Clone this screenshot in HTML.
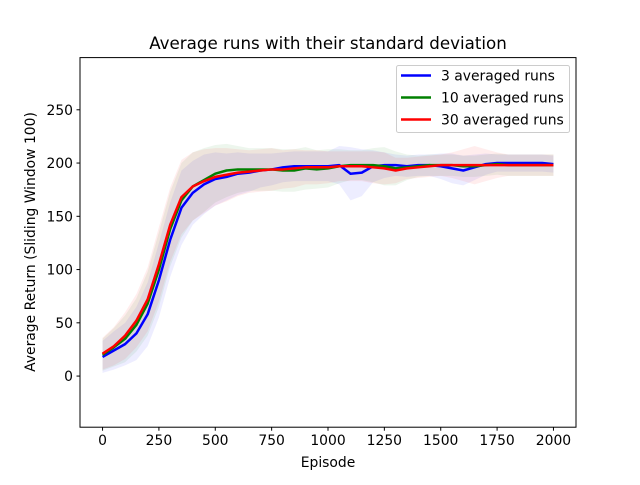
<!DOCTYPE html>
<html><head><meta charset="utf-8"><style>
body{margin:0;background:#fff;}
svg text{font-family:"DejaVu Sans","Liberation Sans",sans-serif;fill:#000;}
</style></head><body>
<svg id="chart" width="640" height="480">
<rect width="640" height="480" fill="#fff"/>
<g id="bands"></g>
<g id="lines"></g>
<rect x="80" y="57.6" width="496" height="369.6" fill="none" stroke="#000" stroke-width="1"/>
<g id="xticks"></g>
<g id="yticks"></g>
<text x="328" y="49" font-size="16.7" text-anchor="middle">Average runs with their standard deviation</text>
<text x="328" y="467" font-size="13.9" text-anchor="middle">Episode</text>
<text transform="translate(35,242) rotate(-90)" font-size="13.9" text-anchor="middle">Average Return (Sliding Window 100)</text>
<g>
<rect x="396.5" y="65.5" width="173" height="67" rx="2" fill="#fff" fill-opacity="0.8" stroke="#ccc"/>
<line x1="401" y1="75.5" x2="431" y2="75.5" stroke="#0000ff" stroke-width="2.5"/>
<text x="441" y="80.5" font-size="13.9">3 averaged runs</text>
<line x1="401" y1="97.5" x2="431" y2="97.5" stroke="#008000" stroke-width="2.5"/>
<text x="441" y="102.5" font-size="13.9">10 averaged runs</text>
<line x1="401" y1="119.5" x2="431" y2="119.5" stroke="#ff0000" stroke-width="2.5"/>
<text x="441" y="124.5" font-size="13.9">30 averaged runs</text>
</g>
</svg>
<script>
const episodes=[0,50,100,150,200,250,300,350,400,450,500,550,600,650,700,750,800,850,900,950,1000,1050,1100,1150,1200,1250,1300,1350,1400,1450,1500,1550,1600,1650,1700,1750,1800,1850,1900,1950,2000];
const blueVals=[18,24,30,40,58,90,128,158,172,180,185,187,190,191,193,194,196,197,197,197,197,198,190,191,197,198,198,197,198,198,197,195,193,196,199,200,200,200,200,200,199];
const greenVals=[20,27,35,48,68,100,138,165,178,184,190,193,194,194,194,194,193,193,195,194,195,197,198,198,198,197,195,196,197,198,198,198,197,197,198,199,198,198,198,198,198];
const redVals=[21,28,38,52,72,105,142,168,178,183,187,189,191,192,193,194,194,195,196,196,196,197,197,197,196,195,193,195,196,197,198,198,198,198,198,198,198,198,198,198,198];
const blueStd=[15,18,20,25,30,35,35,35,30,28,25,22,20,18,16,15,14,14,14,14,14,18,25,22,15,12,10,10,10,10,12,14,14,12,10,8,8,8,8,8,8];
const greenStd=[15,18,22,25,30,35,35,35,32,30,27,25,22,20,20,20,20,20,20,18,18,16,14,14,16,18,16,12,10,10,10,10,10,10,10,10,10,10,10,10,10];
const redStd=[15,18,22,25,30,35,35,35,32,30,27,25,22,20,20,20,18,18,16,16,15,14,14,14,15,15,12,10,10,10,10,12,15,18,15,12,10,10,10,10,10];
const xTicks=[0,250,500,750,1000,1250,1500,1750,2000];
const yTicks=[0,50,100,150,200,250];
const xMin=-100,xMax=2100,yMin=-48,yMax=299;
const L=80,R=576,T=57.6,B=427.2;
const sx=v=>L+(v-xMin)/(xMax-xMin)*(R-L);
const sy=v=>B-(v-yMin)/(yMax-yMin)*(B-T);
const NS="http://www.w3.org/2000/svg";
const bands=document.getElementById('bands'),lines=document.getElementById('lines');
const series=[["blue","#0000ff",blueVals,blueStd],["green","#008000",greenVals,greenStd],["red","#ff0000",redVals,redStd]];
series.forEach(([n,c,v,s])=>{
  let up=episodes.map((e,i)=>sx(e)+","+sy(v[i]+s[i]));
  let lo=episodes.map((e,i)=>sx(e)+","+sy(v[i]-s[i])).reverse();
  const p=document.createElementNS(NS,'polygon');
  p.setAttribute('points',up.concat(lo).join(' '));
  p.setAttribute('fill',c);p.setAttribute('fill-opacity','0.07');
  
  
  bands.appendChild(p);
});
series.forEach(([n,c,v])=>{
  const p=document.createElementNS(NS,'polyline');
  p.setAttribute('points',episodes.map((e,i)=>sx(e)+","+sy(v[i])).join(' '));
  p.setAttribute('fill','none');p.setAttribute('stroke',c);p.setAttribute('stroke-width','2.5');p.setAttribute('stroke-linejoin','round');
  
  
  lines.appendChild(p);
});
const xg=document.getElementById('xticks');
xTicks.forEach(t=>{
  const x=sx(t);
  const l=document.createElementNS(NS,'line');
  l.setAttribute('x1',x);l.setAttribute('x2',x);l.setAttribute('y1',B);l.setAttribute('y2',B+3.5);l.setAttribute('stroke','#000');
  
  
  xg.appendChild(l);
  const tx=document.createElementNS(NS,'text');
  tx.setAttribute('x',x);tx.setAttribute('y',B+18);tx.setAttribute('font-size','13.9');tx.setAttribute('text-anchor','middle');
  tx.textContent=t;
  
  
  xg.appendChild(tx);
});
const yg=document.getElementById('yticks');
yTicks.forEach(t=>{
  const y=sy(t);
  const l=document.createElementNS(NS,'line');
  l.setAttribute('x1',L-3.5);l.setAttribute('x2',L);l.setAttribute('y1',y);l.setAttribute('y2',y);l.setAttribute('stroke','#000');
  
  
  yg.appendChild(l);
  const tx=document.createElementNS(NS,'text');
  tx.setAttribute('x',L-7);tx.setAttribute('y',y+5);tx.setAttribute('font-size','13.9');tx.setAttribute('text-anchor','end');
  tx.textContent=t;
  
  
  yg.appendChild(tx);
});
</script>
</body></html>
